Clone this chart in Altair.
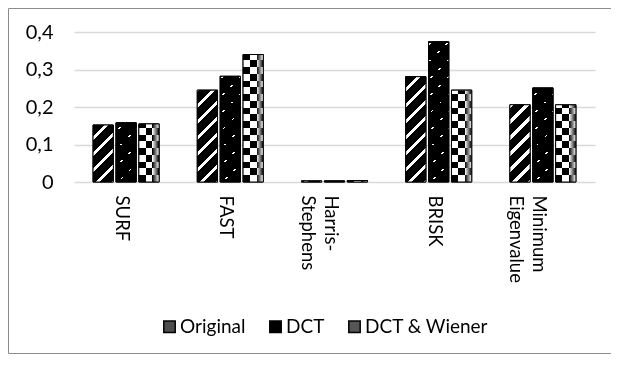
import altair as alt
import pandas as pd

# ---------------- data ----------------
categories = ["SURF", "FAST", "Harris-Stephens", "BRISK", "Minimum Eigenvalue"]
series = ["Original", "DCT", "DCT & Wiener"]
original = [0.152, 0.245, 0.003, 0.281, 0.206]
dct = [0.158, 0.282, 0.003, 0.374, 0.251]
dct_wiener = [0.155, 0.340, 0.004, 0.245, 0.206]
y_ticks = [0, 0.1, 0.2, 0.3, 0.4]

rows = []
for i, c in enumerate(categories):
    for s, vals in zip(series, [original, dct, dct_wiener]):
        rows.append({"cat": c, "series": s, "value": vals[i]})
df = pd.DataFrame(rows)

# ---------------- layout ----------------
W, H = 521, 150
Y_MAX = 0.4
PAD = {"left": 66, "top": 24, "right": 16, "bottom": 172}
X_PI, X_PO = 0.366, 0.183
O_PI = 0.115
step = W / (len(categories) - X_PI + 2 * X_PO)
band = step * (1 - X_PI)
bar_w = band / (len(series) - O_PI) * (1 - O_PI)
FONT = "Lato"
TEXT = "#000000"

WHITE, BLACK = "#ffffff", "#000000"


def stripe_stops(total, period, on_len, offset, anchor=0.0):
    """Stops along a coordinate s in [0,total]; white where
    (s - anchor - offset) mod period < on_len."""
    bounds = []
    m = -int((anchor + offset) // period) - 2
    while True:
        start = anchor + offset + m * period
        if start > total:
            break
        bounds.append((start, start + on_len))
        m += 1

    def is_on(s):
        return any(a <= s < b for a, b in bounds)

    stops = [{"offset": 0, "color": WHITE if is_on(0) else BLACK}]
    edges = sorted(set(e for ab in bounds for e in ab if 0 < e < total))
    for e in edges:
        before = is_on(e - 1e-6)
        after = is_on(e + 1e-6)
        if before != after:
            o = round(e / total, 5)
            stops.append({"offset": o, "color": WHITE if before else BLACK})
            stops.append({"offset": o, "color": WHITE if after else BLACK})
    stops.append({"offset": 1, "color": WHITE if is_on(total) else BLACK})
    return stops


def diag_gradient(w, h, period, on_len, offset):
    # t = (x + y) / (w + h)  -> "/" stripes at 45 degrees in pixels
    k = (w + h) / (w * w + h * h)
    return {"gradient": "linear", "x1": 0, "y1": 0,
            "x2": round(w * k, 5), "y2": round(h * k, 5),
            "stops": stripe_stops(w + h, period, on_len, offset, anchor=h)}


def rows_gradient(h, period, on_len, offset):
    # s = distance from bar bottom
    return {"gradient": "linear", "x1": 0, "y1": 1, "x2": 0, "y2": 0,
            "stops": stripe_stops(max(h, 0.01), period, on_len, offset)}


def cols_gradient(w, period, on_len, offset):
    return {"gradient": "linear", "x1": 0, "y1": 0, "x2": 1, "y2": 0,
            "stops": stripe_stops(w, period, on_len, offset)}


cell = bar_w / 3
base_conds, dct_conds, wiener_conds = [], [], []
for r in rows:
    h = r["value"] / Y_MAX * H
    test = f"datum.cat === '{r['cat']}' && datum.series === '{r['series']}'"
    if r["series"] == "Original":
        g = diag_gradient(bar_w, h, 16, 4.2, 2)
    elif r["series"] == "DCT":
        g = diag_gradient(bar_w, h, 17.4, 1.7, 1.2)
        dct_conds.append({"test": test, "value": rows_gradient(h, 8.4, 1.8, 3.0)})
    else:
        g = cols_gradient(bar_w, 2 * cell, cell, -cell)
        wiener_conds.append({"test": test, "value": rows_gradient(h, 2 * cell, cell, cell)})
    base_conds.append({"test": test, "value": g})

x_enc = alt.X("cat:N", sort=categories,
              scale=alt.Scale(paddingInner=X_PI, paddingOuter=X_PO),
              axis=alt.Axis(title=None, labelAngle=90, labelAlign="left",
                            labelBaseline="middle", labelPadding=13, labelOffset=-4,
                            ticks=False, domain=False, labelFont=FONT,
                            labelFontSize=18.5, labelColor=TEXT, labelLineHeight=23,
                            labelLimit=0,
                            labelExpr="split(replace(replace(datum.label, '-', '-|'), ' ', '|'), '|')"))
xo_enc = alt.XOffset("series:N", sort=series,
                     scale=alt.Scale(domain=series, paddingInner=O_PI, paddingOuter=0))
y_enc = alt.Y("value:Q", stack=None,
              scale=alt.Scale(domain=[0, Y_MAX], nice=False),
              axis=alt.Axis(title=None, values=y_ticks, ticks=False, domain=False,
                            labelPadding=21, labelFont=FONT, labelFontSize=20,
                            labelColor=TEXT, gridColor="#d9d9d9", gridWidth=1.5,
                            labelExpr="replace(format(datum.value, '.1~f'), '.', ',')"))

base = alt.Chart(df)

legend_layer = base.mark_bar(stroke="black", strokeWidth=1).encode(
    x=x_enc, xOffset=xo_enc, y=y_enc,
    fill=alt.Fill("series:N", sort=series,
                  scale=alt.Scale(domain=series, range=["#4d4d4d", "#000000", "#555555"]),
                  legend=alt.Legend(title=None, orient="none", direction="horizontal",
                                    legendX=86, legendY=285, symbolType="square",
                                    symbolSize=130, symbolStrokeColor="#000000",
                                    symbolStrokeWidth=1.5, labelFont=FONT,
                                    labelFontSize=19, labelColor=TEXT,
                                    labelOffset=1, columnPadding=20)),
)

pattern_layer = base.mark_bar().encode(
    x=x_enc, xOffset=xo_enc, y=y_enc,
    fill=alt.value("black", condition=base_conds),
)

dct_layer = base.transform_filter(alt.datum.series == "DCT").mark_bar(blend="multiply").encode(
    x=x_enc, xOffset=xo_enc, y=y_enc,
    fill=alt.value("white", condition=dct_conds),
)

wiener_layer = base.transform_filter(alt.datum.series == "DCT & Wiener").mark_bar(blend="difference").encode(
    x=x_enc, xOffset=xo_enc, y=y_enc,
    fill=alt.value("black", condition=wiener_conds),
)

outline_layer = base.mark_bar(fillOpacity=0, stroke="black", strokeWidth=1).encode(
    x=x_enc, xOffset=xo_enc, y=y_enc,
)

frame_src = alt.Chart(pd.DataFrame({"k": [0]}))
frame_left = frame_src.mark_rule(color="#8c8c8c", strokeWidth=1).encode(
    x=alt.value(-PAD["left"] + 0.5), y=alt.value(-PAD["top"] + 0.5),
    y2=alt.value(H + PAD["bottom"] - 0.5))
frame_top = frame_src.mark_rule(color="#8c8c8c", strokeWidth=1).encode(
    x=alt.value(-PAD["left"] + 0.5), x2=alt.value(W + PAD["right"]),
    y=alt.value(-PAD["top"] + 0.5))
frame_bottom = frame_src.mark_rule(color="#8c8c8c", strokeWidth=1).encode(
    x=alt.value(-PAD["left"] + 0.5), x2=alt.value(W + PAD["right"]),
    y=alt.value(H + PAD["bottom"] - 0.5))

chart = alt.layer(
    legend_layer, pattern_layer, dct_layer, wiener_layer, outline_layer,
    frame_left, frame_top, frame_bottom,
).properties(
    width=W, height=H, padding=PAD,
    autosize=alt.AutoSizeParams(type="none"),
    background="white",
).configure_view(stroke=None)

chart.save("out.html", embed_options={"renderer": "svg", "actions": False})
